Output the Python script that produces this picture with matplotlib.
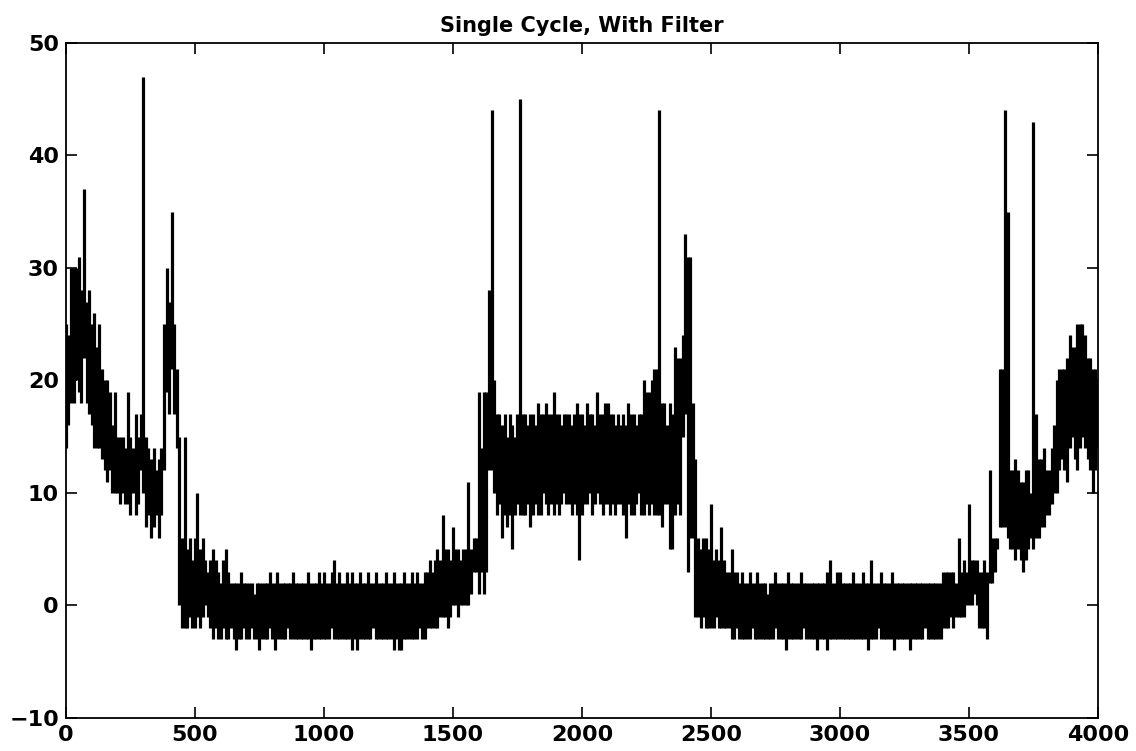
"""
    Single cycle signal trace, with filter
"""
import matplotlib.pyplot as plt
import numpy as np

# trace: highest and lowest value in every 10-sample bin
step = 10
upper = [25, 24, 30, 30, 30, 31, 28, 37, 27, 28,
         25, 26, 23, 25, 21, 20, 20, 19, 16, 19,
         15, 15, 15, 14, 19, 15, 14, 17, 15, 17,
         47, 15, 14, 13, 14, 12, 13, 14, 25, 30,
         27, 35, 25, 21, 15, 6, 15, 5, 6, 4,
         # 500
         6, 10, 5, 6, 4, 3, 4, 5, 4, 3,
         2, 4, 5, 3, 2, 2, 2, 2, 3, 2,
         2, 2, 2, 1, 2, 2, 2, 2, 2, 3,
         2, 2, 3, 2, 2, 2, 2, 2, 3, 2,
         2, 2, 2, 2, 3, 2, 2, 2, 3, 2,
         # 1000
         3, 2, 2, 3, 4, 2, 3, 2, 2, 3,
         2, 3, 2, 2, 3, 2, 2, 3, 2, 2,
         3, 2, 2, 2, 3, 2, 2, 3, 2, 2,
         2, 3, 2, 2, 3, 2, 3, 2, 2, 3,
         3, 4, 3, 4, 5, 4, 8, 5, 5, 4,
         # 1500
         7, 5, 5, 4, 5, 5, 11, 5, 6, 6,
         19, 14, 19, 19, 28, 44, 20, 17, 17, 16,
         17, 15, 17, 16, 15, 17, 45, 17, 17, 16,
         17, 17, 16, 18, 17, 17, 18, 17, 17, 19,
         17, 17, 16, 17, 17, 17, 16, 17, 18, 17,
         # 2000
         17, 16, 18, 17, 17, 16, 19, 17, 17, 18,
         18, 17, 17, 16, 17, 16, 17, 16, 18, 17,
         17, 16, 17, 17, 20, 19, 19, 20, 21, 21,
         44, 18, 18, 16, 18, 17, 23, 22, 22, 24,
         33, 31, 31, 18, 13, 6, 5, 6, 6, 5,
         # 2500
         9, 4, 5, 4, 7, 4, 3, 3, 5, 3,
         3, 2, 3, 2, 2, 3, 2, 2, 3, 2,
         2, 2, 1, 2, 2, 3, 2, 2, 2, 2,
         3, 2, 2, 2, 2, 3, 2, 2, 2, 2,
         2, 2, 2, 2, 2, 3, 4, 2, 2, 3,
         # 3000
         3, 2, 2, 2, 2, 3, 2, 2, 2, 3,
         2, 2, 4, 2, 2, 2, 3, 2, 2, 2,
         3, 2, 2, 2, 2, 2, 2, 2, 2, 2,
         2, 2, 2, 2, 2, 2, 2, 2, 2, 2,
         3, 3, 3, 3, 3, 2, 6, 3, 4, 3,
         # 3500
         9, 4, 4, 4, 3, 3, 4, 3, 12, 6,
         6, 6, 21, 21, 44, 35, 12, 12, 13, 12,
         11, 11, 12, 12, 10, 43, 17, 13, 13, 14,
         12, 12, 14, 16, 20, 21, 21, 21, 22, 24,
         23, 23, 25, 25, 25, 24, 22, 22, 21, 21, 20]
lower = [14, 16, 18, 18, 20, 19, 18, 22, 18, 17,
         16, 14, 14, 14, 13, 12, 11, 12, 10, 10,
         10, 9, 10, 9, 9, 8, 10, 8, 9, 12,
         10, 7, 8, 6, 7, 8, 6, 8, 12, 19,
         17, 21, 17, 14, 0, -2, -2, -2, -1, -2,
         # 500
         -2, -1, -2, -1, 0, -1, -2, -3, -2, -3,
         -3, -2, -3, -3, -2, -3, -4, -3, -3, -2,
         -3, -3, -2, -3, -3, -4, -3, -3, -3, -2,
         -3, -4, -3, -3, -3, -3, -2, -3, -3, -3,
         -3, -3, -3, -3, -3, -4, -3, -3, -3, -3,
         # 1000
         -3, -3, -3, -2, -3, -3, -3, -3, -3, -3,
         -3, -4, -3, -4, -3, -3, -3, -3, -3, -2,
         -3, -3, -3, -3, -3, -3, -3, -4, -3, -4,
         -4, -3, -3, -3, -3, -3, -3, -2, -3, -3,
         -2, -2, -2, -2, -2, -1, -1, -1, -2, -1,
         # 1500
         0, 0, -1, 0, 0, 0, 0, 1, 3, 3,
         1, 3, 1, 3, 12, 12, 10, 8, 9, 6,
         8, 7, 8, 5, 8, 9, 8, 8, 8, 9,
         7, 8, 9, 8, 8, 10, 9, 8, 9, 8,
         9, 8, 9, 10, 9, 9, 8, 9, 8, 4,
         # 2000
         8, 9, 9, 10, 8, 9, 10, 9, 8, 9,
         9, 8, 9, 8, 9, 9, 8, 6, 9, 8,
         8, 9, 10, 8, 8, 9, 8, 9, 8, 8,
         8, 7, 9, 9, 5, 5, 8, 9, 8, 15,
         17, 3, 6, 6, -1, -1, -2, -1, -2, -2,
         # 2500
         -2, -2, -1, -2, -2, -2, -2, -2, -3, -3,
         -2, -3, -3, -3, -3, -3, -2, -3, -3, -3,
         -3, -3, -3, -3, -3, -2, -3, -3, -3, -4,
         -3, -3, -3, -3, -3, -3, -2, -3, -3, -3,
         -3, -4, -3, -3, -3, -4, -3, -3, -3, -3,
         # 3000
         -3, -3, -3, -3, -3, -3, -3, -3, -3, -3,
         -3, -4, -3, -3, -3, -2, -3, -3, -3, -3,
         -3, -4, -3, -3, -3, -3, -3, -4, -3, -3,
         -3, -3, -3, -2, -3, -3, -3, -3, -3, -3,
         -2, -2, -2, -1, -2, -1, -1, -1, -1, 0,
         # 3500
         0, 0, 1, 0, -2, -2, -2, -3, 2, 2,
         3, 5, 7, 7, 7, 6, 5, 5, 4, 5,
         4, 3, 4, 5, 6, 5, 6, 6, 7, 7,
         8, 8, 9, 10, 10, 12, 13, 12, 11, 14,
         15, 13, 12, 14, 15, 14, 13, 12, 10, 12, 14]

samples = np.arange(len(upper)) * step

plt.rcParams['font.family'] = ['DejaVu Sans']

fig = plt.figure(figsize=(11.36, 7.51), dpi=100)
ax = fig.add_axes([0.058, 0.044, 0.9085, 0.8988])
ax.vlines(samples, lower, upper, color='black', linewidth=2.3)

ax.set_xlim(0, 4000)
ax.set_ylim(-10, 50)
ax.set_xticks(np.arange(0, 4001, 500))
ax.set_yticks(np.arange(-10, 51, 10))
ax.tick_params(direction='in', length=8, width=1.2, top=True, right=True,
               labelsize=16, pad=5)
for lbl in ax.get_xticklabels() + ax.get_yticklabels():
    lbl.set_fontweight('bold')
for spine in ax.spines.values():
    spine.set_linewidth(1.3)
ax.set_title('Single Cycle, With Filter', fontsize=15, fontweight='bold',
             pad=8)

fig.savefig('out.png', dpi=100)
